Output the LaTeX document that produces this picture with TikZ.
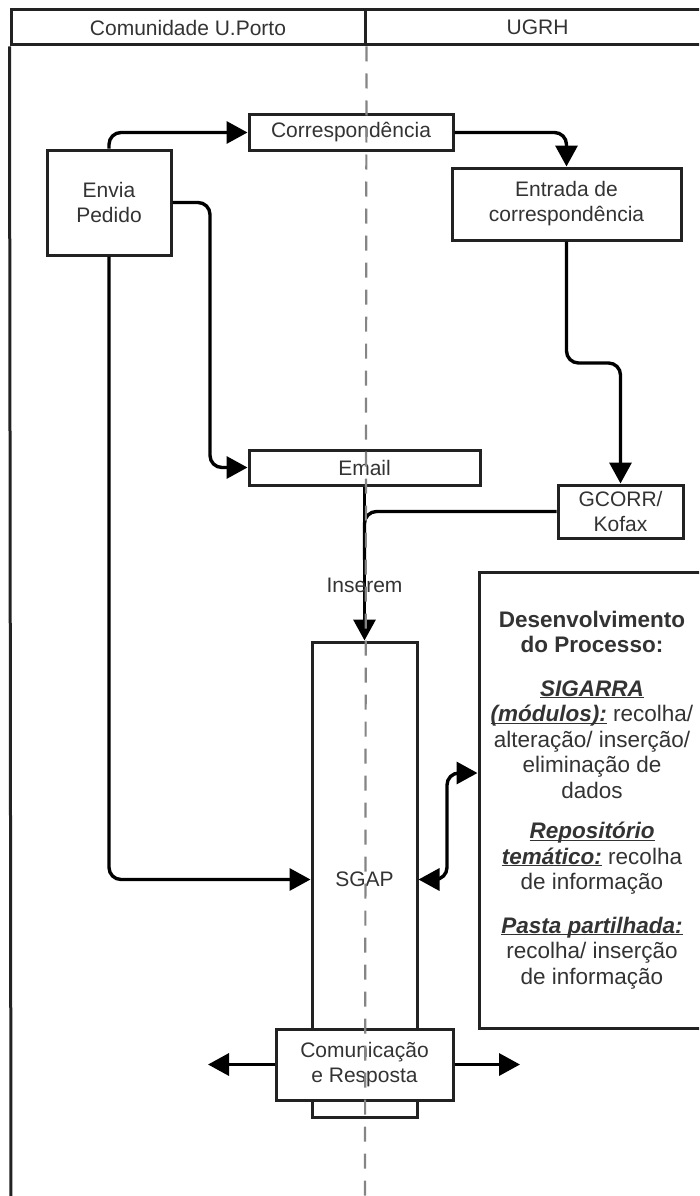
\documentclass[tikz,border=0pt]{standalone}
\usepackage{fontspec}
\setmainfont{Liberation Sans}
\usetikzlibrary{arrows.meta}
\definecolor{txtgray}{HTML}{333333}
\definecolor{linegray}{HTML}{222222}
\definecolor{dashgray}{HTML}{858585}
\newcommand{\ulbi}[1]{\underline{\smash{\textbf{\textit{#1}}}}}

\begin{document}
\begin{tikzpicture}[x=1pt,y=-1pt,
		>={Triangle[length=21pt,width=22pt]},
		box/.style={draw=linegray,line width=3pt,fill=white,text=txtgray,align=center,inner sep=0pt,font=\fontsize{21}{25}\selectfont},
		lane/.style={box,fill=none},
		wire/.style={draw=black,line width=3.4pt,rounded corners=12pt},
		conn/.style={wire,->}]
			\useasboundingbox (0,0) rectangle (699,1196);
			\clip (0,0) rectangle (699,1196);

			\node[lane,minimum width=354pt,minimum height=35pt] (laneA) at (188,27.5) {Comunidade U.Porto};
			\node[lane,minimum width=345pt,minimum height=35pt] (laneB) at (537.5,27.5) {UGRH};
			\draw[linegray,line width=3pt] (laneA.south west) -- (11,1200);

			\node[box,minimum width=124pt,minimum height=105pt] (pedido) at (109,202.5) {Envia\\Pedido};
			\node[box,minimum width=204pt,minimum height=35pt] (corr) at (351,132.5) {Correspondência};
			\node[box,minimum width=229pt,minimum height=72pt] (entrada) at (566.5,204) {Entrada de\\correspondência};
			\node[box,minimum width=231pt,minimum height=35pt] (email) at (364.5,467.5) {Email};
			\node[box,minimum width=125pt,minimum height=53pt] (gcorr) at (620.5,511.5) {GCORR/\\Kofax};
			\node[box,minimum width=105pt,minimum height=475pt] (sgap) at (364.5,879.5) {SGAP};
			\node[box,minimum width=226pt,minimum height=456pt,font=\fontsize{22.5}{25.5}\selectfont] (desenv) at (592,800) {\textbf{Desenvolvimento}\\\textbf{do Processo:}\\[18pt]
				\ulbi{SIGARRA}\\
				\ulbi{(módulos):} recolha/\\
				alteração/ inserção/\\
				eliminação de\\
				dados\\[15pt]
				\ulbi{Repositório}\\
				\ulbi{temático:} recolha\\
				de informação\\[18pt]
				\ulbi{Pasta partilhada:}\\
				recolha/ inserção\\
				de informação};
			\node[box,minimum width=177pt,minimum height=71pt] (comm) at (364.5,1064.5) {Comunicação\\e Resposta};

			\coordinate (join) at (364.5,560);
			\coordinate (dIn) at (desenv.west |- 0,773);
			\coordinate (outL) at (208,1064.5);
			\coordinate (outR) at (520,1064.5);

			\draw[conn] (pedido.north) |- (corr.west);
			\draw[conn] (corr.east) -| (entrada.north);
			\draw[conn] (pedido.east) -- (210,202.5) |- (email.west);
			\draw[conn] (entrada.south) -- (566.5,363) -- (620.5,363) -- (gcorr.north);
			\draw[wire] (gcorr.west) -| (join);
			\draw[conn] (email.south) -- node[pos=0.64,text=txtgray,font=\fontsize{21}{25}\selectfont] (lblIns) {Inserem} (sgap.north);
			\draw[conn] (pedido.south) |- (sgap.west);
			\draw[conn,<->] (sgap.east) -- (447,879.5) |- (dIn);
			\draw[conn] (comm.west) -- (outL);
			\draw[conn] (comm.east) -- (outR);

			\draw[dashgray,line width=2.2pt,dash pattern=on 15pt off 12pt] (laneA.south east) -- (365,1200);
		\end{tikzpicture}
\end{document}
